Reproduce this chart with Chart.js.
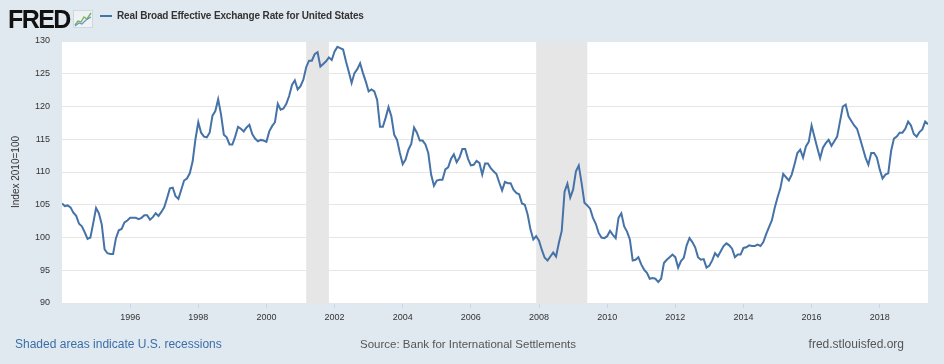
<!DOCTYPE html>
<html><head><meta charset="utf-8">
<script src="https://cdn.jsdelivr.net/npm/chart.js@4.4.1/dist/chart.umd.min.js"></script>
<style>
html,body{margin:0;padding:0;background:#e1e9f0;}
#wrap{position:relative;width:944px;height:364px;overflow:hidden;font-family:"Liberation Sans",Arial,sans-serif;}
#c{position:absolute;left:0;top:0;}
.logo{position:absolute;left:8px;top:4px;font-weight:bold;font-size:25px;line-height:30px;color:#111;letter-spacing:-1.6px;}
.lgline{position:absolute;left:100px;top:15px;width:12px;height:2px;background:#4572a7;}
.lgtext{position:absolute;left:117px;top:10px;font-weight:bold;font-size:10px;line-height:12px;color:#333;letter-spacing:-0.15px;white-space:nowrap;}
.foot{position:absolute;top:337px;font-size:11.5px;line-height:14px;white-space:nowrap;}
</style></head>
<body><div id="wrap">
<canvas id="c" width="944" height="364"></canvas>
<div class="logo">FRED</div>
<svg style="position:absolute;left:73px;top:10px" width="20" height="18" viewBox="0 0 20 18">
<rect x="0.5" y="0.5" width="19" height="17" fill="#eef2f4" stroke="#d0d8de"/>
<polyline points="2,15 5,11 8,12 11,7 14,9 18,3" fill="none" stroke="#79b35a" stroke-width="1.4"/>
<polyline points="2,16 6,13 9,14 13,10 18,7" fill="none" stroke="#6a94c4" stroke-width="1.2"/>
</svg>
<div class="lgline"></div>
<div class="lgtext">Real Broad Effective Exchange Rate for United States</div>
<div class="foot" style="left:15px;font-size:12px;color:#3b6ea8;">Shaded areas indicate U.S. recessions</div>
<div class="foot" style="left:360px;color:#555;">Source: Bank for International Settlements</div>
<div class="foot" style="right:40px;font-size:12px;color:#555;">fred.stlouisfed.org</div>
</div>
<script>
const startYear = 1994;
const values = [
105.2,104.8,104.9,104.6,103.8,103.3,102.1,101.7,100.8,99.8,100.0,102.2,
104.5,103.7,102.0,98.2,97.6,97.5,97.5,99.9,101.1,101.3,102.3,102.6,
103.0,103.0,103.0,102.8,103.0,103.4,103.4,102.7,103.1,103.7,103.3,103.9,
104.6,106.0,107.5,107.6,106.3,105.9,107.3,108.7,109.0,109.8,111.6,115.0,
117.6,116.0,115.4,115.3,116.0,118.6,119.3,121.1,118.8,115.7,115.3,114.2,
114.2,115.4,116.9,116.6,116.2,116.8,117.2,115.8,115.1,114.7,114.9,114.8,
114.6,116.2,117.0,117.6,120.4,119.5,119.7,120.4,121.6,123.3,124.0,122.6,
123.1,124.1,126.0,127.0,127.0,128.0,128.3,126.1,126.5,126.9,127.5,127.1,
128.4,129.1,128.9,128.7,126.9,125.3,123.6,125.1,125.7,126.6,125.1,123.8,
122.3,122.6,122.3,121.0,116.9,116.9,118.3,119.9,118.5,115.7,114.9,112.9,
111.2,111.9,113.4,114.3,116.8,116.0,114.8,114.8,114.2,112.9,109.6,107.9,
108.7,108.8,108.8,110.4,110.7,112.0,112.7,111.5,112.2,113.5,113.5,112.0,
111.0,111.1,111.7,111.4,109.6,111.3,111.3,110.6,110.1,109.7,108.4,107.2,
108.5,108.3,108.3,107.3,106.8,106.6,105.2,105.0,103.5,101.2,99.7,100.2,
99.5,98.1,96.9,96.5,97.1,97.7,97.1,99.2,101.0,107.0,108.2,106.1,
107.3,110.1,111.0,108.3,105.3,104.9,104.4,103.0,102.1,100.7,100.0,99.9,
100.2,101.0,100.4,99.9,103.0,103.7,101.7,100.9,99.7,96.5,96.6,97.0,
95.9,95.1,94.6,93.7,93.8,93.7,93.2,93.7,96.1,96.6,97.0,97.4,
97.0,95.4,96.4,96.9,98.8,99.9,99.3,98.5,97.0,96.6,96.7,95.4,
95.7,96.5,97.6,97.1,97.9,98.7,99.1,98.8,98.3,97.0,97.4,97.4,
98.4,98.5,98.8,98.7,98.7,98.9,98.7,99.3,100.5,101.6,102.6,104.5,
106.1,107.5,109.7,109.2,108.7,109.6,111.2,112.9,113.4,112.2,113.9,114.6,
117.1,115.4,113.7,112.1,113.7,114.4,114.9,114.0,114.7,115.4,117.7,120.0,
120.3,118.5,117.8,117.1,116.6,115.2,113.7,112.2,111.1,112.9,112.9,112.2,
110.4,109.0,109.6,109.8,113.2,115.1,115.4,116.0,116.0,116.6,117.7,117.1,
115.8,115.4,116.1,116.5,117.7,117.3
];
const xTicks = [1996,1998,2000,2002,2004,2006,2008,2010,2012,2014,2016,2018];
const yTicks = [90,95,100,105,110,115,120,125,130];
const recessions = [[2001 + 2/12, 2001 + 10/12], [2007 + 11/12, 2009 + 5/12]];

const points = values.map((v, i) => ({x: startYear + i / 12, y: v}));

const bgPlugin = {
  id: 'bg',
  beforeDraw(chart) {
    const {ctx, chartArea: a, scales: {x}} = chart;
    ctx.save();
    ctx.fillStyle = '#ffffff';
    ctx.fillRect(a.left, a.top, a.right - a.left, a.bottom - a.top);
    ctx.fillStyle = '#e6e6e6';
    recessions.forEach(([s, e]) => {
      const x0 = x.getPixelForValue(s), x1 = x.getPixelForValue(e);
      ctx.fillRect(x0, a.top, x1 - x0, a.bottom - a.top);
    });
    ctx.restore();
  }
};

new Chart(document.getElementById('c'), {
  type: 'line',
  data: {datasets: [{
    data: points,
    borderColor: '#4572a7',
    borderWidth: 2,
    pointRadius: 0,
    tension: 0,
    fill: false
  }]},
  options: {
    responsive: false,
    animation: false,
    events: [],
    layout: {padding: {left: 0, right: 16, top: 41, bottom: 41}},
    plugins: {legend: {display: false}, tooltip: {enabled: false}},
    scales: {
      x: {
        type: 'linear',
        min: startYear,
        max: startYear + (values.length - 1) / 12,
        afterBuildTicks(s) { s.ticks = xTicks.map(v => ({value: v})); },
        afterFit(s) { s.height = 20; },
        ticks: {
          callback: v => String(v),
          color: '#333',
          font: {family: '"Liberation Sans", Arial, sans-serif', size: 9},
          padding: 4,
          maxRotation: 0,
          autoSkip: false
        },
        grid: {drawOnChartArea: false, drawTicks: true, tickLength: 5, color: '#ccd6eb'},
        border: {display: false}
      },
      y: {
        min: 90,
        max: 130,
        afterBuildTicks(s) { s.ticks = yTicks.map(v => ({value: v})); },
        afterFit(s) { s.width = 62; },
        ticks: {
          color: '#333',
          font: {family: '"Liberation Sans", Arial, sans-serif', size: 9},
          padding: 12
        },
        grid: {color: '#e6e6e6', lineWidth: 1, drawTicks: false},
        border: {display: false},
        title: {
          display: true,
          text: 'Index 2010=100',
          color: '#333',
          font: {family: '"Liberation Sans", Arial, sans-serif', size: 10},
          padding: {top: 10, bottom: 0}
        }
      }
    }
  },
  plugins: [bgPlugin]
});
</script>
</body></html>
